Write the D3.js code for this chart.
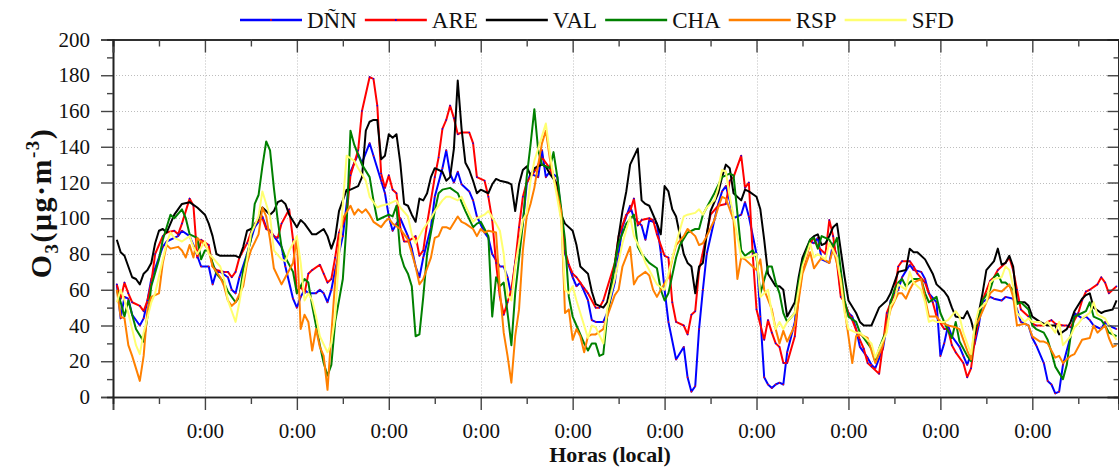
<!DOCTYPE html>
<html><head><meta charset="utf-8">
<script src="https://cdn.jsdelivr.net/npm/d3@7"></script>
<style>
body{margin:0;background:#fff}
svg{display:block}
text{font-family:"Liberation Serif","Times New Roman",serif;fill:#111}
</style>
</head><body>
<svg id="c" width="1119" height="467"></svg>
<script>
// ---------- DATA (hour since start, O3 µg·m-3) ----------
const seriesNames = ["DÑN","ARE","VAL","CHA","RSP","SFD"];
const seriesColors = ["#0000ff","#ff0000","#000000","#008000","#ff8000","#ffff70"];
const markerColors = ["#ff0000","#0000ff",null,null,null,null];

const DNN = [[1,63],[2,44],[3,56],[4,55],[5,46],[7,40],[8,44],[9,54],[10,66],[12,78],[13,84],[14,87],[16,89],[17,90],[18,93],[20,90],[21,85],[22,79],[23,73],[25,73],[26,63],[27,70],[28,70],[30,67],[31,60],[32,58],[33,67],[35,80],[36,88],[37,95],[39,101],[40,95],[41,93],[42,90],[44,84],[45,73],[47,55],[48,50],[49,56],[50,60],[51,58],[53,58],[54,60],[55,58],[56,53],[57,60],[58,71],[60,90],[61,108],[62,126],[64,136],[65,131],[67,142],[68,135],[70,121],[71,114],[72,101],[73,93],[74,97],[75,100],[77,90],[78,83],[79,73],[80,67],[81,78],[83,95],[84,112],[86,128],[87,138],[88,125],[89,120],[90,126],[91,119],[93,115],[94,110],[95,101],[97,92],[98,89],[99,80],[101,73],[102,73],[103,67],[104,57],[105,75],[107,97],[108,119],[109,125],[111,123],[112,138],[113,123],[114,126],[116,123],[117,102],[118,80],[120,67],[121,62],[122,64],[124,54],[125,43],[126,42],[128,42],[129,47],[131,64],[132,80],[133,95],[135,107],[136,100],[138,96],[139,88],[140,99],[142,97],[143,81],[144,60],[145,42],[147,21],[149,28],[150,11],[151,3],[152,6],[153,38],[154,60],[155,80],[157,99],[158,108],[159,115],[160,118],[161,110],[162,100],[164,102],[165,109],[166,101],[168,80],[169,45],[170,11],[171,7],[172,5],[173,7],[174,8],[175,7],[176,25],[178,42],[179,62],[180,77],[182,87],[183,86],[184,89],[185,77],[187,75],[188,86],[189,78],[190,58],[192,47],[193,45],[194,38],[195,28],[197,22],[198,18],[199,16],[201,27],[202,40],[203,54],[205,60],[206,67],[208,74],[209,71],[211,70],[212,66],[213,58],[215,53],[216,23],[217,30],[218,40],[219,34],[221,28],[222,23],[223,18],[225,30],[226,40],[227,53],[229,56],[230,55],[232,54],[233,56],[235,55],[236,49],[237,42],[239,40],[240,33],[241,29],[243,19],[244,9],[245,7],[246,2],[247,3],[248,18],[250,34],[251,47],[253,44],[254,45],[255,43],[256,40],[258,38],[259,42],[260,40],[262,38]];

const ARE = [[1,63],[2,55],[3,64],[4,58],[5,53],[7,51],[8,48],[9,54],[10,64],[11,80],[13,90],[14,92],[16,93],[17,91],[18,97],[20,111],[21,107],[22,78],[23,88],[25,85],[26,73],[27,71],[29,70],[30,70],[31,67],[32,70],[33,78],[35,86],[36,92],[37,97],[39,100],[40,94],[41,93],[42,90],[43,89],[44,97],[46,105],[47,88],[48,58],[49,62],[50,58],[51,69],[52,71],[54,74],[55,69],[56,64],[57,66],[58,78],[59,92],[61,102],[62,124],[64,138],[65,160],[67,179],[68,178],[69,163],[70,125],[71,117],[72,124],[73,116],[74,114],[75,95],[76,87],[77,87],[79,90],[80,79],[81,82],[82,97],[84,123],[85,134],[86,150],[87,155],[88,163],[89,156],[90,147],[91,148],[93,148],[94,142],[95,123],[97,121],[98,112],[99,99],[100,75],[101,56],[102,46],[103,53],[104,60],[105,75],[106,95],[107,112],[108,120],[110,126],[112,134],[114,128],[116,118],[117,100],[118,82],[119,74],[120,69],[121,67],[123,61],[124,58],[126,50],[127,50],[128,54],[131,75],[132,90],[134,102],[135,104],[136,111],[137,96],[138,99],[140,100],[141,99],[142,91],[144,79],[145,78],[146,53],[147,42],[149,40],[150,35],[151,46],[152,48],[153,71],[155,91],[156,102],[158,107],[160,108],[161,121],[162,123],[164,135],[165,117],[166,120],[167,80],[168,49],[170,32],[171,43],[172,36],[173,30],[174,28],[175,19],[176,19],[178,34],[179,56],[180,71],[182,86],[183,89],[184,84],[186,80],[187,99],[188,90],[189,75],[190,56],[191,53],[192,47],[193,43],[195,32],[196,27],[197,19],[198,17],[200,13],[201,29],[202,47],[204,58],[205,73],[206,76],[208,76],[209,73],[210,69],[212,64],[213,58],[214,53],[215,45],[217,38],[218,38],[219,29],[220,25],[222,19],[223,11],[224,16],[225,32],[226,43],[227,54],[229,65],[230,67],[231,71],[233,75],[234,78],[235,71],[236,60],[237,49],[239,45],[240,41],[241,40],[243,40],[244,42],[245,43],[246,41],[248,40],[249,40],[250,39],[252,47],[253,54],[254,59],[255,60],[257,63],[258,67],[259,64],[260,58],[262,62]];

const VAL = [[1,88],[2,81],[3,79],[4,73],[5,67],[6,66],[7,63],[8,69],[9,71],[10,75],[11,86],[12,93],[13,94],[14,92],[16,102],[18,108],[20,109],[22,106],[24,102],[25,97],[26,90],[27,80],[28,79],[30,79],[32,79],[33,78],[34,84],[35,93],[36,94],[37,96],[38,100],[39,106],[40,104],[41,102],[42,104],[43,109],[44,110],[45,108],[46,102],[48,95],[49,99],[50,97],[52,91],[53,91],[55,94],[56,90],[57,83],[58,89],[59,104],[60,110],[61,116],[62,116],[64,118],[65,123],[66,149],[67,154],[68,155],[69,155],[70,133],[71,135],[72,147],[73,145],[74,147],[75,131],[76,108],[77,107],[78,102],[79,98],[80,111],[81,110],[82,114],[83,123],[84,128],[86,126],[87,121],[88,123],[89,139],[90,177],[91,150],[92,131],[93,127],[94,121],[95,114],[96,116],[98,114],[99,119],[100,122],[101,121],[103,120],[104,119],[105,104],[106,119],[107,127],[108,129],[109,124],[110,128],[112,130],[113,129],[114,125],[116,119],[117,102],[118,97],[120,93],[121,85],[122,73],[124,69],[125,59],[126,52],[128,50],[129,53],[130,63],[131,73],[132,90],[133,104],[134,115],[135,130],[137,139],[138,110],[139,108],[140,107],[142,97],[143,91],[144,118],[145,115],[146,105],[147,101],[149,80],[150,75],[151,73],[152,58],[153,73],[154,75],[155,91],[156,104],[158,114],[159,123],[160,130],[161,128],[162,114],[164,110],[165,116],[166,115],[168,112],[169,105],[170,88],[171,69],[173,62],[174,62],[175,60],[176,45],[178,53],[179,67],[180,78],[182,88],[183,90],[184,91],[185,85],[186,86],[187,90],[188,95],[189,97],[190,82],[191,67],[192,54],[194,47],[195,42],[196,40],[198,40],[199,45],[200,50],[202,54],[203,58],[204,64],[205,70],[207,71],[208,83],[209,81],[210,81],[212,77],[213,73],[214,69],[215,63],[217,59],[218,56],[219,50],[220,45],[222,44],[223,48],[224,43],[225,35],[226,47],[227,58],[228,71],[230,76],[231,83],[232,74],[233,75],[234,79],[235,73],[236,53],[238,53],[239,51],[240,45],[242,42],[243,41],[244,40],[246,40],[247,35],[249,38],[250,42],[251,48],[253,55],[254,57],[255,58],[256,50],[258,47],[259,48],[261,49],[262,54]];

const CHA = [[1,60],[2,53],[3,45],[4,54],[5,46],[6,38],[8,31],[9,45],[10,62],[12,77],[13,88],[15,102],[16,100],[18,105],[19,100],[20,91],[22,89],[23,77],[24,82],[25,82],[26,75],[27,69],[29,64],[30,59],[32,53],[33,56],[34,71],[36,88],[37,108],[38,113],[39,129],[40,143],[41,138],[42,117],[43,99],[44,84],[45,78],[47,70],[48,58],[50,66],[51,64],[52,51],[53,40],[54,29],[55,19],[56,12],[57,18],[58,42],[60,66],[61,97],[62,149],[63,141],[65,130],[67,123],[68,110],[69,99],[70,100],[72,102],[73,101],[74,107],[75,80],[76,73],[77,69],[78,62],[79,34],[80,35],[81,56],[82,80],[84,104],[85,114],[86,116],[88,117],[90,114],[92,104],[94,95],[95,97],[96,98],[98,90],[99,45],[100,67],[101,62],[102,64],[103,47],[104,29],[105,58],[107,97],[108,123],[109,141],[110,161],[111,138],[112,130],[114,128],[115,137],[116,123],[118,88],[119,56],[120,45],[121,40],[123,30],[124,26],[125,30],[126,30],[127,23],[128,24],[129,45],[130,58],[131,75],[132,86],[134,97],[136,102],[137,84],[138,80],[140,75],[142,72],[143,60],[144,54],[145,58],[147,78],[148,85],[150,92],[152,94],[153,94],[154,102],[155,106],[157,114],[159,123],[160,124],[161,125],[162,124],[164,82],[165,79],[167,82],[168,78],[169,58],[171,73],[172,73],[173,64],[174,58],[175,47],[176,42],[178,47],[179,64],[180,75],[182,88],[183,89],[184,83],[185,90],[187,88],[188,84],[189,89],[190,71],[191,54],[192,45],[194,42],[195,36],[196,33],[198,27],[199,20],[200,27],[202,38],[203,53],[204,60],[205,64],[206,66],[207,62],[208,64],[209,66],[211,66],[212,58],[213,53],[215,56],[216,47],[218,37],[219,33],[220,42],[221,31],[223,23],[224,20],[225,38],[226,43],[227,54],[229,60],[230,67],[231,69],[232,64],[233,64],[235,60],[236,52],[237,53],[239,49],[240,40],[241,38],[243,36],[244,32],[245,25],[246,17],[248,10],[249,18],[250,34],[251,45],[253,47],[254,48],[255,53],[256,45],[258,43],[259,40],[260,36],[262,34]];

const RSP = [[1,60],[2,45],[3,44],[4,29],[5,23],[6,16],[7,9],[8,23],[9,49],[10,56],[12,58],[13,75],[14,85],[15,83],[17,84],[18,82],[19,78],[20,85],[21,78],[22,89],[24,85],[25,82],[26,73],[28,67],[29,62],[30,54],[31,51],[32,53],[34,62],[35,75],[36,82],[38,91],[39,106],[40,101],[41,88],[42,72],[44,63],[45,67],[47,75],[48,89],[49,38],[50,46],[51,42],[52,26],[53,38],[54,28],[55,23],[56,4],[57,35],[58,65],[59,85],[60,100],[62,107],[63,102],[64,105],[65,103],[66,105],[67,102],[68,98],[70,95],[71,98],[72,100],[73,97],[75,94],[76,91],[77,88],[79,73],[80,63],[81,66],[83,78],[84,89],[85,90],[86,95],[87,95],[88,94],[90,101],[91,98],[92,97],[94,94],[95,90],[96,94],[97,92],[98,93],[100,92],[101,60],[102,36],[103,23],[104,8],[105,34],[106,49],[107,82],[108,101],[109,108],[110,117],[111,130],[112,142],[113,149],[114,134],[115,123],[117,104],[118,47],[119,49],[120,32],[121,38],[122,34],[123,25],[124,34],[125,35],[126,35],[128,38],[129,45],[131,57],[132,60],[133,73],[135,84],[136,63],[137,67],[139,70],[140,68],[141,60],[142,56],[143,60],[145,67],[146,77],[147,85],[149,90],[150,94],[152,90],[153,85],[154,86],[155,90],[157,99],[158,106],[159,112],[160,111],[162,99],[163,66],[164,78],[165,77],[167,73],[168,71],[169,77],[170,60],[172,49],[173,38],[174,30],[175,37],[176,31],[178,40],[179,54],[180,69],[182,81],[183,72],[184,75],[185,78],[187,75],[188,83],[190,66],[191,49],[192,34],[193,19],[194,34],[195,35],[197,33],[198,26],[199,19],[201,29],[202,40],[203,49],[205,58],[206,58],[207,55],[208,60],[209,64],[211,66],[212,55],[213,45],[215,45],[216,42],[218,40],[220,39],[221,38],[222,32],[223,26],[224,21],[225,40],[226,43],[228,53],[229,58],[230,60],[232,59],[233,61],[234,63],[235,56],[236,40],[238,41],[239,40],[240,34],[242,31],[243,31],[244,30],[246,22],[247,23],[248,19],[250,23],[251,24],[252,28],[253,32],[255,33],[256,40],[257,36],[259,40],[260,33],[261,28],[262,29]];

const SFD = [[1,53],[2,60],[3,54],[4,47],[5,38],[6,29],[7,24],[8,36],[10,53],[11,58],[13,77],[14,86],[15,92],[16,89],[17,88],[18,87],[20,90],[21,84],[22,80],[24,87],[25,80],[26,78],[28,73],[29,66],[30,54],[32,42],[33,53],[34,66],[35,77],[36,91],[38,101],[39,115],[40,108],[41,101],[42,82],[44,77],[45,76],[46,82],[48,90],[49,75],[50,54],[51,58],[52,54],[53,45],[54,34],[56,25],[57,30],[58,45],[59,78],[60,108],[61,135],[63,132],[64,128],[66,121],[67,112],[69,106],[70,107],[72,108],[74,110],[75,106],[77,101],[78,91],[79,86],[80,90],[81,94],[83,100],[84,104],[86,110],[87,112],[88,112],[90,110],[91,112],[92,107],[94,98],[95,100],[97,102],[98,104],[100,97],[101,93],[102,80],[103,57],[104,54],[105,73],[107,99],[108,103],[109,121],[110,132],[111,139],[113,153],[114,137],[115,123],[117,99],[118,60],[119,58],[120,62],[121,54],[123,40],[124,33],[125,40],[126,39],[128,30],[129,49],[131,66],[133,86],[135,101],[136,90],[138,81],[139,75],[141,67],[142,63],[144,60],[145,69],[147,86],[149,101],[150,102],[152,103],[153,105],[154,102],[155,106],[157,110],[158,117],[159,127],[160,126],[161,112],[163,90],[164,78],[165,78],[166,78],[168,80],[169,56],[171,60],[172,47],[173,38],[174,42],[175,38],[176,42],[178,47],[179,60],[180,73],[182,86],[183,78],[184,80],[186,77],[187,86],[189,78],[190,64],[191,47],[192,38],[194,36],[195,36],[196,34],[198,30],[199,22],[200,27],[202,36],[203,51],[204,54],[205,63],[207,60],[208,70],[209,64],[211,60],[212,53],[213,42],[214,43],[215,42],[217,42],[218,43],[220,48],[221,45],[222,36],[223,30],[224,24],[225,40],[226,49],[228,53],[229,64],[230,66],[232,67],[233,73],[234,71],[235,62],[236,47],[238,42],[239,44],[240,42],[242,42],[243,40],[244,42],[246,36],[247,42],[248,29],[250,34],[251,39],[252,41],[253,44],[255,47],[256,53],[257,46],[259,44],[260,40],[261,35],[262,32]];

const seriesData = [DNN, ARE, VAL, CHA, RSP, SFD];

const yMajorTicks = [0,20,40,60,80,100,120,140,160,180,200];
const yMinorTicks = [10,30,50,70,90,110,130,150,170,190];
const xMidnights = [0,24,48,72,96,120,144,168,192,216,240];
const xNoons = [12,36,60,84,108,132,156,180,204,228,252];
const xTickLabel = "0:00";
const xDomain = [0, 262.5];
const yDomain = [0, 200];
const yTitle = {main:"O", sub:"3", mid:"(μg·m", sup:"-3", end:")"};
const xTitle = "Horas (local)";

// ---------- LAYOUT ----------
const svg = d3.select("#c");
const L = 113, R = 1118.5, T = 39.5, B = 397;
const x = d3.scaleLinear().domain(xDomain).range([L, R]);
const y = d3.scaleLinear().domain(yDomain).range([B, T]);

// grid
const grid = svg.append("g").attr("stroke","#bdbdbd").attr("stroke-width",1).attr("stroke-dasharray","1,2");
grid.selectAll("line.h").data(yMajorTicks.filter(d=>d>0 && d<200)).join("line")
  .attr("x1",L).attr("x2",R).attr("y1",d=>Math.round(y(d))+0.5).attr("y2",d=>Math.round(y(d))+0.5);
grid.selectAll("line.v").data(xMidnights.filter(d=>d>0)).join("line")
  .attr("y1",T).attr("y2",B).attr("x1",d=>Math.round(x(d))+0.5).attr("x2",d=>Math.round(x(d))+0.5);

// lines
const line = d3.line().x(d=>x(d[0])).y(d=>y(d[1]));
svg.append("clipPath").attr("id","pc").append("rect")
  .attr("x",L).attr("y",T-5).attr("width",R-L).attr("height",B-T+6);
const lg = svg.append("g").attr("clip-path","url(#pc)");
seriesData.forEach((data,i)=>{
  lg.append("path").datum(data).attr("d",line)
    .attr("fill","none").attr("stroke",seriesColors[i]).attr("stroke-width",2)
    .attr("stroke-linejoin","round");
  if (markerColors[i]) {
    lg.append("g").selectAll("circle").data(data).join("circle")
      .attr("cx",d=>x(d[0])).attr("cy",d=>y(d[1])).attr("r",0.8)
      .attr("fill",markerColors[i]);
  }
});

// axes
const axColor = "#222";
function styleAxis(g){
  g.select(".domain").attr("stroke",axColor).attr("stroke-width",1.6);
  g.selectAll(".tick line").attr("stroke","#444").attr("stroke-width",1.4);
  g.selectAll("text").attr("font-family","Liberation Serif, Times New Roman, serif")
    .attr("font-size",21).attr("fill","#111");
}
// left
svg.append("g").attr("transform",`translate(${L},0)`)
  .call(d3.axisLeft(y).tickValues(yMajorTicks).tickSize(12).tickPadding(11).tickFormat(d=>d))
  .call(styleAxis);
svg.append("g").attr("transform",`translate(${L},0)`)
  .call(d3.axisLeft(y).tickValues(yMinorTicks).tickSize(6).tickFormat(""))
  .call(styleAxis);
// right (inward)
svg.append("g").attr("transform",`translate(${R},0)`)
  .call(d3.axisRight(y).tickValues(yMajorTicks).tickSize(-11).tickFormat(""))
  .call(styleAxis);
svg.append("g").attr("transform",`translate(${R},0)`)
  .call(d3.axisRight(y).tickValues(yMinorTicks).tickSize(-5).tickFormat(""))
  .call(styleAxis);
// bottom
svg.append("g").attr("transform",`translate(0,${B})`)
  .call(d3.axisBottom(x).tickValues(xMidnights).tickSize(13).tickPadding(13).tickFormat(d=>d===0?"":xTickLabel))
  .call(styleAxis);
svg.append("g").attr("transform",`translate(0,${B})`)
  .call(d3.axisBottom(x).tickValues(xNoons).tickSize(7).tickFormat(""))
  .call(styleAxis);
// top (inward)
svg.append("g").attr("transform",`translate(0,${T})`)
  .call(d3.axisTop(x).tickValues(xMidnights).tickSize(-13).tickFormat(""))
  .call(styleAxis);
svg.append("g").attr("transform",`translate(0,${T})`)
  .call(d3.axisTop(x).tickValues(xNoons).tickSize(-7).tickFormat(""))
  .call(styleAxis);

// axis titles
svg.append("text").attr("x",610).attr("y",462).attr("text-anchor","middle")
  .attr("font-size",22).attr("font-weight","bold").text(xTitle);
const yt = svg.append("text").attr("transform","translate(51,203) rotate(-90)")
  .attr("text-anchor","middle").attr("font-size",30).attr("font-weight","bold")
  .attr("letter-spacing",1.5);
yt.append("tspan").text(yTitle.main);
yt.append("tspan").attr("font-size",19).attr("dy",7).text(yTitle.sub);
yt.append("tspan").attr("dy",-7).text(yTitle.mid);
yt.append("tspan").attr("font-size",19).attr("dy",-12).text(yTitle.sup);
yt.append("tspan").attr("dy",12).text(yTitle.end);

// legend
const leg = svg.append("g");
let lx = 240;
seriesNames.forEach((name,i)=>{
  leg.append("line").attr("x1",lx).attr("x2",lx+62).attr("y1",20).attr("y2",20)
    .attr("stroke",seriesColors[i]).attr("stroke-width",2.5);
  if (markerColors[i]) leg.append("circle").attr("cx",lx+31).attr("cy",20).attr("r",1).attr("fill",markerColors[i]);
  const t = leg.append("text").attr("x",lx+67).attr("y",28).attr("font-size",23).text(name);
  lx = lx + 67 + t.node().getComputedTextLength() + 8;
});
</script>
</body></html>
